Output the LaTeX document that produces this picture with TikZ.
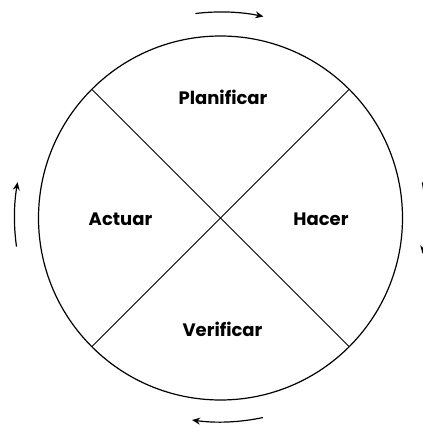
\documentclass[tikz,border=0pt]{standalone}
\usepackage{fontspec}
\setmainfont{Poppins}
\usetikzlibrary{positioning, arrows.meta, calc}

\begin{document}
\begin{tikzpicture}[x=1pt, y=1pt,
    phase/.style={font=\fontsize{18}{20}\selectfont\bfseries, text=black, anchor=base, inner sep=0pt},
    turn/.style={-{Stealth[length=8pt, width=7pt]}, line width=1.2pt}]
    \useasboundingbox (0,0) rectangle (423,426);
    \node[draw, circle, line width=1.2pt, minimum size=364pt, inner sep=0pt, outer sep=0pt] (cycle) at (220.5,208) {};
    \draw[line width=1pt] (cycle.135) -- (cycle.-45);
    \draw[line width=1pt] (cycle.45) -- (cycle.-135);
    \node[phase] (plan) at (223,321) {Planificar};
    \node[phase] (hacer) at (321,200) {Hacer};
    \node[phase] (verif) at (222.5,89) {Verificar};
    \node[phase] (actuar) at (120.5,200) {Actuar};
    % flechas de giro alrededor del ciclo
    \draw[turn] ($(cycle.center)+(97:206)$) arc[start angle=97, end angle=78, radius=206];
    \draw[turn] ($(cycle.center)+(10:205)$) arc[start angle=10, end angle=-10, radius=205];
    \draw[turn] ($(cycle.center)+(282:204)$) arc[start angle=282, end angle=262, radius=204];
    \draw[turn] ($(cycle.center)+(188:206)$) arc[start angle=188, end angle=170, radius=206];
\end{tikzpicture}
\end{document}
